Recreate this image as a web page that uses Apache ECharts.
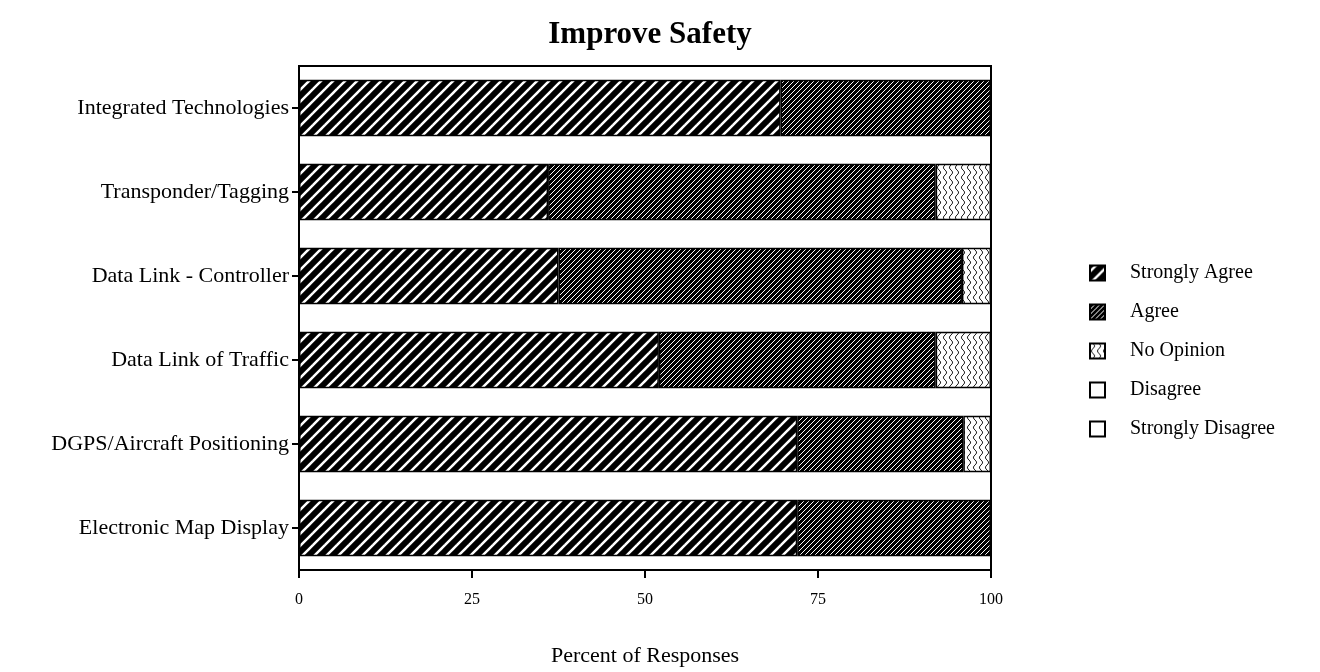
<!DOCTYPE html>
<html>
<head>
<meta charset="utf-8">
<script src="https://cdn.jsdelivr.net/npm/echarts@6/dist/echarts.min.js"></script>
<style>html,body{margin:0;padding:0;background:#fff}#c{width:1320px;height:672px}</style>
</head>
<body>
<div id="c"></div>
<script>
const categories = ["Integrated Technologies","Transponder/Tagging","Data Link - Controller","Data Link of Traffic","DGPS/Aircraft Positioning","Electronic Map Display"];
const stronglyAgree = [69.6, 36, 37.5, 52, 72, 72];
const agree = [30.4, 56, 58.3, 40, 24, 28];
const noOpinion = [0, 8, 4.2, 8, 4, 0];
const disagree = [0, 0, 0, 0, 0, 0];
const stronglyDisagree = [0, 0, 0, 0, 0, 0];
const xTicks = [0, 25, 50, 75, 100];

function tile(w, h, draw) {
  const c = document.createElement('canvas');
  c.width = w; c.height = h;
  const g = c.getContext('2d');
  draw(g, w, h);
  return { image: c, repeat: 'repeat' };
}
function diag(g, s, color, width) {
  g.strokeStyle = color; g.lineWidth = width; g.lineCap = 'square';
  for (let k = -1; k <= 1; k++) {
    g.beginPath();
    g.moveTo(k * s, s); g.lineTo(k * s + s, 0);
    g.stroke();
  }
}
const saPattern = tile(12, 12, (g, w, h) => { g.fillStyle = '#fff'; g.fillRect(0,0,w,h); diag(g, 12, '#000', 6); });
const agPattern = tile(5, 5, (g, w, h) => { g.fillStyle = '#000'; g.fillRect(0,0,w,h); diag(g, 5, '#fff', 1); });
const noPattern = tile(6, 10, (g, w, h) => {
  g.fillStyle = '#fff'; g.fillRect(0,0,w,h);
  g.strokeStyle = '#222'; g.lineWidth = 1;
  g.beginPath();
  for (let y = 0; y <= h; y++) {
    const x = 3 + 1.6 * Math.sin(y / h * Math.PI * 2);
    if (y === 0) g.moveTo(x, y); else g.lineTo(x, y);
  }
  g.stroke();
});

const font = 'Liberation Serif';
function bar(name, data, color) {
  return {
    name, type: 'bar', stack: 'all', data, barWidth: '67%',
    itemStyle: { color, borderColor: '#000', borderWidth: 1.5 },
    emphasis: { disabled: true }, animation: false
  };
}
const chart = echarts.init(document.getElementById('c'), null, { renderer: 'canvas' });
chart.setOption({
  animation: false,
  backgroundColor: '#fff',
  title: { text: 'Improve Safety', left: 645, top: 14, textAlign: 'center',
    textStyle: { fontFamily: font, fontSize: 31, fontWeight: 'bold', color: '#000' } },
  grid: { left: 299, right: 329, top: 66, bottom: 98, show: true, borderColor: '#000', borderWidth: 2, backgroundColor: 'transparent' },
  legend: {
    orient: 'vertical', left: 1084, top: 258, itemWidth: 15, itemHeight: 15, itemGap: 19, icon: 'rect',
    textStyle: { fontFamily: font, fontSize: 20, color: '#000', padding: [0, 0, 0, 20] },
    data: ['Strongly Agree', 'Agree', 'No Opinion', 'Disagree', 'Strongly Disagree'],
    selectedMode: false
  },
  xAxis: {
    type: 'value', min: 0, max: 100, interval: 25,
    name: 'Percent of Responses', nameLocation: 'middle', nameGap: 75,
    nameTextStyle: { fontFamily: font, fontSize: 22, color: '#000' },
    axisLine: { show: true, lineStyle: { color: '#000', width: 2 } },
    axisTick: { show: true, length: 8, lineStyle: { color: '#000', width: 2 } },
    axisLabel: { fontFamily: font, fontSize: 16, color: '#000', margin: 22,
      formatter: v => xTicks.includes(v) ? String(v) : '' },
    splitLine: { show: false }
  },
  yAxis: {
    type: 'category', data: categories, inverse: true,
    axisLine: { show: true, lineStyle: { color: '#000', width: 2 } },
    axisTick: { show: true, length: 7, alignWithLabel: true, lineStyle: { color: '#000', width: 2 } },
    axisLabel: { fontFamily: font, fontSize: 22, color: '#000', margin: 10 }
  },
  series: [
    bar('Strongly Agree', stronglyAgree, saPattern),
    bar('Agree', agree, agPattern),
    bar('No Opinion', noOpinion, noPattern),
    bar('Disagree', disagree, '#fff'),
    bar('Strongly Disagree', stronglyDisagree, '#fff')
  ]
});
</script>
</body>
</html>
